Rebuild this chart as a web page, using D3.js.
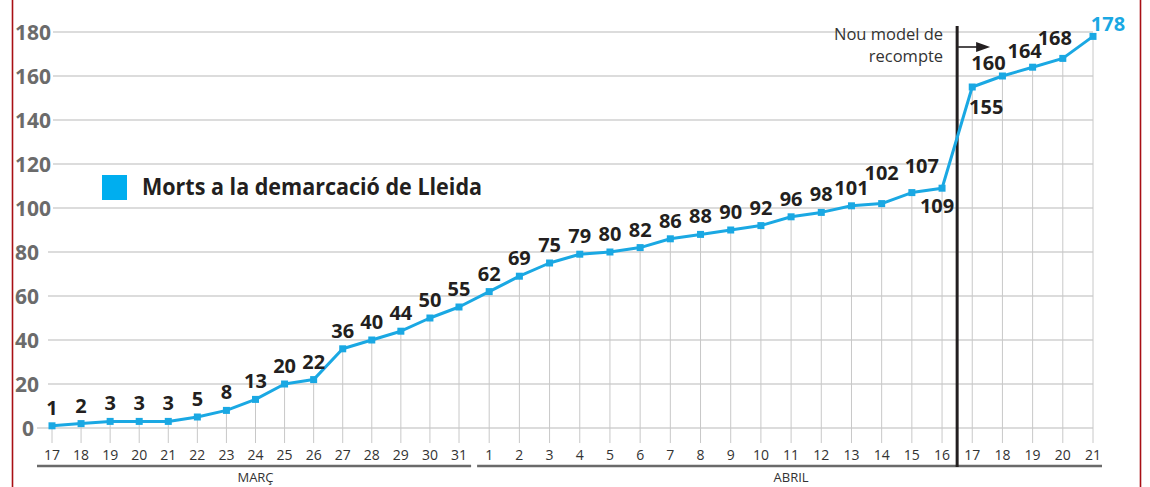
<!DOCTYPE html>
<html>
<head>
<meta charset="utf-8">
<script src="https://cdn.jsdelivr.net/npm/d3@7"></script>
<style>
  html, body { margin: 0; padding: 0; background: #fff; }
  svg { display: block; font-family: 'Open Sans', sans-serif; }
</style>
</head>
<body>
<div id="chart"></div>
<script>
// days shown on the x axis
const marchDays = [17, 18, 19, 20, 21, 22, 23, 24, 25, 26, 27, 28, 29, 30, 31];
const aprilDays = [1, 2, 3, 4, 5, 6, 7, 8, 9, 10, 11, 12, 13, 14, 15, 16, 17, 18, 19, 20, 21];
// cumulative deaths, one per day
const deaths = [1, 2, 3, 3, 3, 5, 8, 13, 20, 22, 36, 40, 44, 50, 55,
  62, 69, 75, 79, 80, 82, 86, 88, 90, 92, 96, 98, 101, 102, 107, 109, 155, 160, 164, 168, 178];
const yTicks = [0, 20, 40, 60, 80, 100, 120, 140, 160, 180];
const months = ['MARÇ', 'ABRIL'];
const seriesName = 'Morts a la demarcació de Lleida';
const noteLines = ['Nou model de', 'recompte'];

const width = 1150, height = 487;
const blue = '#1aa8e3';
const dark = '#231f20';

const days = marchDays.concat(aprilDays);
const n = days.length;
const lastMarch = marchDays.length - 1;

// march is drawn a bit tighter than april in the original
const x = d3.scaleLinear().domain([0, lastMarch, n - 1]).range([52, 459, 1093]);
const y = d3.scaleLinear().domain([0, 180]).range([428, 32]);

const svg = d3.select('#chart').append('svg')
  .attr('width', width)
  .attr('height', height);

// red frame lines left and right
[12.5, 1140.5].forEach(px => {
  svg.append('line')
    .attr('x1', px).attr('x2', px)
    .attr('y1', 0).attr('y2', height)
    .attr('stroke', '#a80f14')
    .attr('stroke-width', 1.6);
});

// horizontal grid
svg.append('g').selectAll('line')
  .data(yTicks)
  .join('line')
  .attr('x1', d => d === 0 ? 37 : (d >= 100 ? 53 : 48))
  .attr('x2', x(n - 1))
  .attr('y1', d => y(d))
  .attr('y2', d => y(d))
  .attr('stroke', '#dcdcdc')
  .attr('stroke-width', 2);

svg.append('g').selectAll('text')
  .data(yTicks)
  .join('text')
  .attr('x', d => d === 0 ? 22 : 15)
  .attr('y', d => y(d))
  .attr('dy', '0.36em')
  .text(d => d)
  .style('font-size', '21px')
  .style('font-weight', 700)
  .style('fill', '#6b6b6b');

// vertical drop lines from each point
svg.append('g').selectAll('line')
  .data(deaths)
  .join('line')
  .attr('x1', (d, i) => x(i))
  .attr('x2', (d, i) => x(i))
  .attr('y1', d => y(d))
  .attr('y2', 443)
  .attr('stroke', '#c8c8c8')
  .attr('stroke-width', 1);

// day labels
svg.append('g').selectAll('text')
  .data(days)
  .join('text')
  .attr('x', (d, i) => x(i))
  .attr('y', 460)
  .attr('text-anchor', 'middle')
  .text(d => d)
  .style('font-size', '14px')
  .style('fill', '#333');

// month rules and names
const monthSpans = [
  { name: months[0], x1: 37, x2: (x(lastMarch) + x(lastMarch + 1)) / 2 - 3, a: 0, b: lastMarch },
  { name: months[1], x1: (x(lastMarch) + x(lastMarch + 1)) / 2 + 3, x2: 1102, a: lastMarch + 1, b: n - 1 }
];
monthSpans.forEach(m => {
  svg.append('line')
    .attr('x1', m.x1).attr('x2', m.x2)
    .attr('y1', 466).attr('y2', 466)
    .attr('stroke', '#6a6a6a')
    .attr('stroke-width', 2.5);
  svg.append('text')
    .attr('x', (x(m.a) + x(m.b)) / 2)
    .attr('y', 482)
    .attr('text-anchor', 'middle')
    .text(m.name)
    .style('font-size', '13px')
    .style('fill', '#333');
});

// "nou model de recompte" marker between 16 and 17 april
const breakX = (x(n - 6) + x(n - 5)) / 2;
svg.append('line')
  .attr('x1', breakX).attr('x2', breakX)
  .attr('y1', 26).attr('y2', 467)
  .attr('stroke', dark)
  .attr('stroke-width', 3);

svg.append('line')
  .attr('x1', breakX + 1).attr('x2', breakX + 20)
  .attr('y1', 47).attr('y2', 47)
  .attr('stroke', dark)
  .attr('stroke-width', 1.6);
svg.append('path')
  .attr('d', `M${breakX + 19},42 L${breakX + 33},47 L${breakX + 19},52 Z`)
  .attr('fill', dark);

noteLines.forEach((t, i) => {
  svg.append('text')
    .attr('x', breakX - 14)
    .attr('y', 40 + i * 22)
    .attr('text-anchor', 'end')
    .text(t)
    .style('font-size', '16.5px')
    .style('fill', '#333');
});

// series line and markers
const line = d3.line()
  .x((d, i) => x(i))
  .y(d => y(d));

svg.append('path')
  .datum(deaths)
  .attr('d', line)
  .attr('fill', 'none')
  .attr('stroke', blue)
  .attr('stroke-width', 3)
  .attr('stroke-linejoin', 'round');

svg.append('g').selectAll('rect')
  .data(deaths)
  .join('rect')
  .attr('x', (d, i) => x(i) - 3.5)
  .attr('y', d => y(d) - 3.5)
  .attr('width', 7)
  .attr('height', 7)
  .attr('fill', blue);

// value labels, a few moved to avoid the line
const labelShift = {
  28: { dx: 0, dy: -24 },
  29: { dx: 10, dy: -20 },
  30: { dx: -5, dy: 25 },
  31: { dx: 14, dy: 27 },
  32: { dx: -14, dy: -6 },
  33: { dx: -8, dy: -9 },
  34: { dx: -8, dy: -13 },
  35: { dx: 15, dy: -5 }
};

svg.append('g').selectAll('text')
  .data(deaths)
  .join('text')
  .attr('x', (d, i) => x(i) + (labelShift[i] ? labelShift[i].dx : 0))
  .attr('y', (d, i) => y(d) + (labelShift[i] ? labelShift[i].dy : -11))
  .attr('text-anchor', 'middle')
  .text(d => d)
  .style('font-size', '20px')
  .style('font-weight', 700)
  .style('fill', (d, i) => i === n - 1 ? blue : dark);

// legend
svg.append('rect')
  .attr('x', 102).attr('y', 175)
  .attr('width', 25).attr('height', 25)
  .attr('fill', '#00aeef');
svg.append('text')
  .attr('x', 142)
  .attr('y', 195)
  .attr('textLength', 340)
  .attr('lengthAdjust', 'spacingAndGlyphs')
  .text(seriesName)
  .style('font-size', '24px')
  .style('font-weight', 700)
  .style('fill', dark);
</script>
</body>
</html>
